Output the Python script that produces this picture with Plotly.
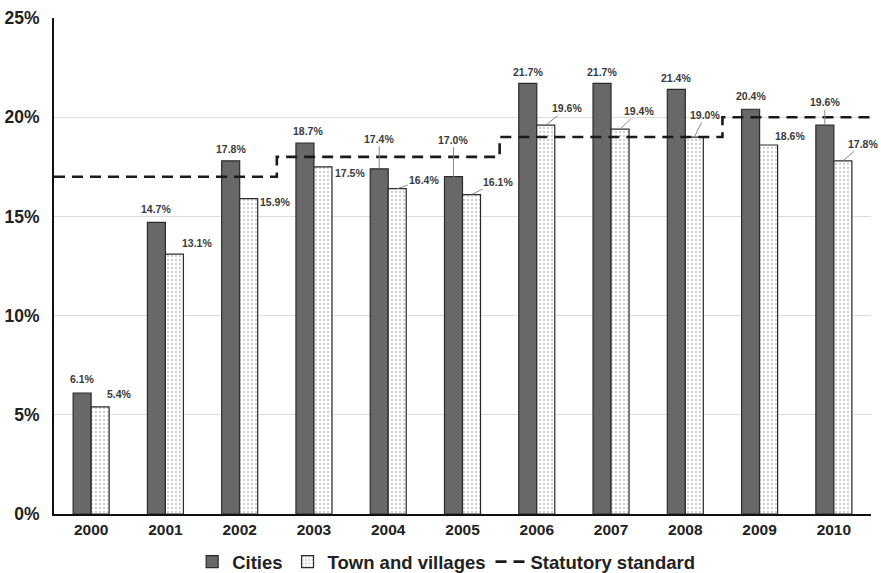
import plotly.graph_objects as go

# Share of spending, by year
years = ["2000", "2001", "2002", "2003", "2004", "2005",
         "2006", "2007", "2008", "2009", "2010"]
cities = [6.1, 14.7, 17.8, 18.7, 17.4, 17.0, 21.7, 21.7, 21.4, 20.4, 19.6]
towns = [5.4, 13.1, 15.9, 17.5, 16.4, 16.1, 19.6, 19.4, 19.0, 18.6, 17.8]
standard = [17, 17, 17, 18, 18, 18, 19, 19, 19, 20, 20]
y_ticks = [0, 5, 10, 15, 20, 25]

# label placement (pixel offsets of the label centre from the bar top, leader line flag)
city_label_pos = [(0, -14, False), (0, -13, False), (0, -12, False), (3, -12, False),
                  (0, -30, True), (0, -37, True), (0, -11, False), (0, -11, False),
                  (0, -11, False), (0, -13, False), (0, -23, True)]
town_label_pos = [(19, -13, False), (23, -11, False), (26, 3, False), (27, 6, False),
                  (27, -9, True), (26, -13, True), (21, -17, True), (19, -18, True),
                  (11, -22, True), (21, -9, False), (20, -17, True)]

FONT = "Liberation Sans, Arial, sans-serif"
BARGAP = 0.515
half = (1 - BARGAP) / 4  # centre offset of each bar within its group
xs = list(range(len(years)))

fig = go.Figure()
fig.add_trace(go.Bar(
    x=xs, y=cities, name="Cities",
    marker=dict(color="#686868", line=dict(color="#2b2b2b", width=1.2)),
))
fig.add_trace(go.Bar(
    x=xs, y=towns, name="Town and villages",
    marker=dict(color="white", line=dict(color="#2b2b2b", width=1.2),
                pattern=dict(shape=".", fgcolor="#9a9a9a", bgcolor="white",
                             size=4, solidity=0.25)),
))

# statutory standard drawn as a step across each year's full slot
step_x = [i - 0.5 for i in xs] + [xs[-1] + 0.5]
step_y = standard + [standard[-1]]
fig.add_trace(go.Scatter(
    x=step_x, y=step_y, name="Statutory standard", mode="lines",
    line=dict(color="#1a1a1a", width=2.6, dash="11px,7px", shape="hv"),
))

annotations = []
for vals, pos, sign in ((cities, city_label_pos, -1), (towns, town_label_pos, 1)):
    for i, (v, (dx, dy, leader)) in enumerate(zip(vals, pos)):
        a = dict(x=i + sign * half, y=v, xref="x", yref="y",
                 text=f"{v:.1f}%",
                 font=dict(family=FONT, size=10.5, color="#3a3a3a", weight="bold"))
        if leader:
            a.update(showarrow=True, arrowhead=0, arrowwidth=1, arrowcolor="#8a8a8a",
                     ax=dx, ay=dy, axref="pixel", ayref="pixel", standoff=0)
        else:
            a.update(showarrow=False, xshift=dx, yshift=-dy)
        annotations.append(a)

fig.update_layout(
    width=881, height=573,
    margin=dict(l=54, r=10, t=18, b=59, autoexpand=False),
    paper_bgcolor="white", plot_bgcolor="white",
    barmode="group", bargap=BARGAP, bargroupgap=0,
    font=dict(family=FONT, color="#222", weight="bold"),
    annotations=annotations,
    showlegend=True,
    legend=dict(orientation="h", x=0.48, xanchor="center", y=-0.097, yanchor="middle",
                font=dict(family=FONT, size=18.5, color="#222", weight="bold"),
                itemwidth=30, tracegroupgap=0),
)
fig.update_xaxes(
    range=[-0.5, len(years) - 0.5], tickmode="array", tickvals=xs, ticktext=years,
    tickfont=dict(size=15.5, family=FONT, color="#222", weight="bold"),
    showline=True, linecolor="#111", linewidth=2, ticks="", showgrid=False,
    zeroline=False,
)
fig.update_yaxes(
    range=[0, 25], tickmode="array", tickvals=y_ticks,
    ticktext=[f"{t}%" for t in y_ticks],
    tickfont=dict(size=17.5, family=FONT, color="#222", weight="bold"),
    showline=True, linecolor="#111", linewidth=2, ticks="",
    showgrid=True, gridcolor="#dcdcdc", gridwidth=1, zeroline=False,
    ticklabelstandoff=9,
)

fig.write_html("out.html")
